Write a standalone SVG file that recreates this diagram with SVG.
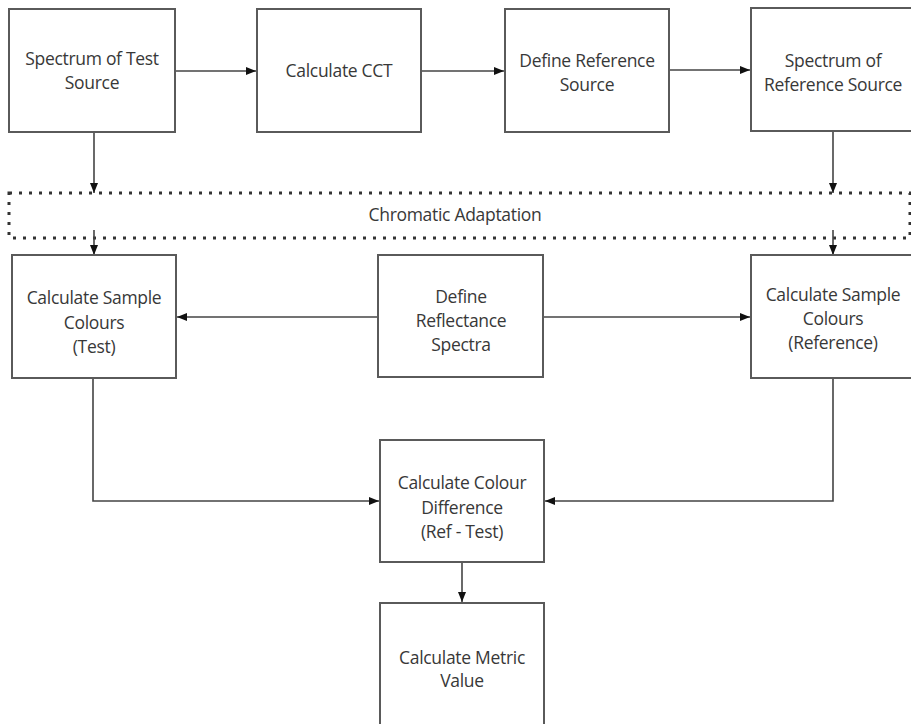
<svg xmlns="http://www.w3.org/2000/svg" width="911" height="724" viewBox="0 0 911 724">
<style>
.box{fill:#fff;stroke:#5a5a5a;stroke-width:2}
.t{font-family:"Open Sans","Liberation Sans",sans-serif;font-size:17.5px;fill:#383838;text-anchor:middle;letter-spacing:-0.3px}
.c{fill:none;stroke:#444;stroke-width:1.6}
.band{fill:none;stroke:#333;stroke-width:3;stroke-dasharray:3 7}
</style>
<defs>
<marker id="ah" viewBox="0 0 10 10" refX="10" refY="5" markerWidth="10" markerHeight="10" markerUnits="userSpaceOnUse" orient="auto">
<path d="M0,1 L10,5 L0,9 z" fill="#111"/>
</marker>
</defs>
<rect width="911" height="724" fill="#fff"/>
<g id="band">
<rect class="band" x="9" y="193" width="901" height="45"/>
<text class="t" x="455" y="221">Chromatic Adaptation</text>
</g>
<g id="connectors">
<line class="c" x1="175" y1="71" x2="256" y2="71" marker-end="url(#ah)"/>
<line class="c" x1="421" y1="71" x2="504" y2="71" marker-end="url(#ah)"/>
<line class="c" x1="669" y1="70" x2="750" y2="70" marker-end="url(#ah)"/>
<line class="c" x1="94" y1="132" x2="94" y2="193" marker-end="url(#ah)"/>
<line class="c" x1="833" y1="131" x2="833" y2="193" marker-end="url(#ah)"/>
<line class="c" x1="94" y1="230" x2="94" y2="255" marker-end="url(#ah)"/>
<line class="c" x1="833" y1="230" x2="833" y2="255" marker-end="url(#ah)"/>
<line class="c" x1="378" y1="317" x2="177" y2="317" marker-end="url(#ah)"/>
<line class="c" x1="543" y1="317" x2="750" y2="317" marker-end="url(#ah)"/>
<polyline class="c" points="93,378 93,501 379,501" marker-end="url(#ah)"/>
<polyline class="c" points="833,378 833,501 545,501" marker-end="url(#ah)"/>
<line class="c" x1="462" y1="562" x2="462" y2="602" marker-end="url(#ah)"/>
</g>
<g id="n1"><rect class="box" x="9" y="9" width="166" height="123"/>
<text class="t" x="92" y="65">Spectrum of Test</text><text class="t" x="92" y="89">Source</text></g>
<g id="n2"><rect class="box" x="257" y="9" width="164" height="123"/>
<text class="t" x="339" y="77">Calculate CCT</text></g>
<g id="n3"><rect class="box" x="505" y="9" width="164" height="123"/>
<text class="t" x="587" y="67">Define Reference</text><text class="t" x="587" y="91">Source</text></g>
<g id="n4"><rect class="box" x="751" y="8" width="170" height="123"/>
<text class="t" x="833" y="67">Spectrum of</text><text class="t" x="833" y="91">Reference Source</text></g>
<g id="n5"><rect class="box" x="12" y="255" width="164" height="123"/>
<text class="t" x="94" y="304">Calculate Sample</text><text class="t" x="94" y="329">Colours</text><text class="t" x="94" y="353">(Test)</text></g>
<g id="n6"><rect class="box" x="378" y="255" width="165" height="122"/>
<text class="t" x="461" y="303">Define</text><text class="t" x="461" y="327">Reflectance</text><text class="t" x="461" y="351">Spectra</text></g>
<g id="n7"><rect class="box" x="751" y="255" width="170" height="123"/>
<text class="t" x="833" y="301">Calculate Sample</text><text class="t" x="833" y="325">Colours</text><text class="t" x="833" y="349">(Reference)</text></g>
<g id="n8"><rect class="box" x="380" y="440" width="164" height="122"/>
<text class="t" x="462" y="489">Calculate Colour</text><text class="t" x="462" y="514">Difference</text><text class="t" x="462" y="538">(Ref - Test)</text></g>
<g id="n9"><rect class="box" x="380" y="603" width="164" height="130"/>
<text class="t" x="462" y="664">Calculate Metric</text><text class="t" x="462" y="687">Value</text></g>
</svg>
